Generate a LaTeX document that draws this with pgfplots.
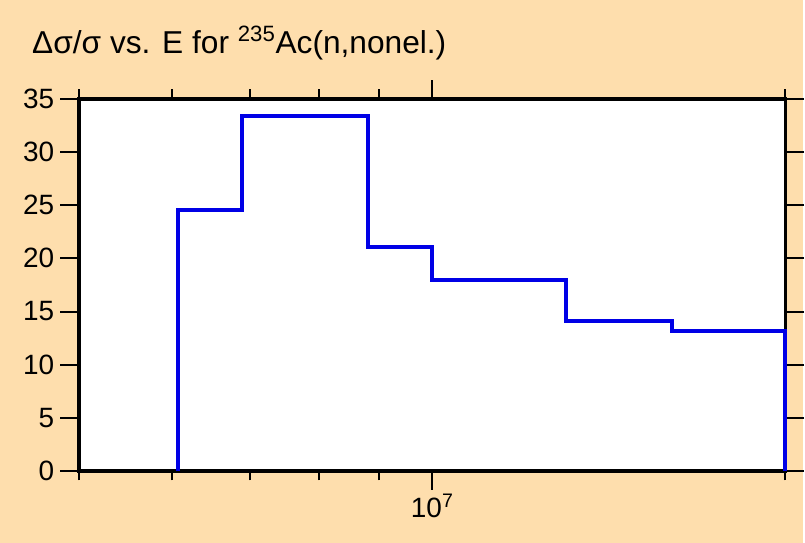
\documentclass[border=0pt]{standalone}
\usepackage{pgfplots}
\pgfplotsset{compat=1.18}
\usepackage{fontspec}
\setmainfont{Liberation Sans}
\definecolor{bgc}{RGB}{254,222,173}
\definecolor{lineblue}{RGB}{0,0,230}
\begin{document}
\begin{tikzpicture}
\fill[bgc] (-59.25pt,-54pt) rectangle (544.5pt,354pt);
\begin{axis}[
  at={(0,0)}, anchor=south west,
  scale only axis,
  width=531pt, height=279.75pt,
  xmode=log,
  xmin=5e6, xmax=2e7,
  ymin=0, ymax=35,
  xtick={1e7}, xticklabels={10\textsuperscript{7}},
  minor xtick={5e6,6e6,7e6,8e6,9e6,2e7},
  ytick={0,5,10,15,20,25,30,35},
  tick align=outside,
  major tick length=14pt,
  minor tick length=7pt,
  every tick/.style={black, line width=1.5pt},
  axis line style={line width=2.6pt},
  axis background/.style={fill=white},
  tick label style={font=\fontsize{21pt}{24pt}\selectfont},
  /pgf/number format/assume math mode=true,
  yticklabel style={xshift=-1pt},
  clip=false,
]
\addplot[const plot, color=lineblue, line width=3pt] coordinates {
  (6.07e6,0) (6.07e6,24.52) (6.88e6,33.4) (8.82e6,21.1) (1e7,17.95)
  (1.3e7,14.07) (1.6e7,13.14) (2e7,13.14) (2e7,0)
};
\end{axis}
\node[anchor=base west, inner sep=0pt, font=\fontsize{23.8pt}{28pt}\selectfont] at (-35.25pt,313.5pt) {Δσ/σ vs. E for \textsuperscript{235}Ac(n,nonel.)};
\end{tikzpicture}
\end{document}
